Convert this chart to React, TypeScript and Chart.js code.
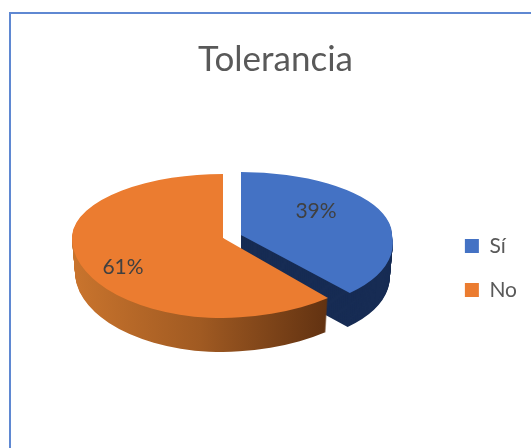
import React, { useEffect, useRef } from "react";
import { Chart, registerables } from "chart.js";

Chart.register(...registerables);

const titleText = "Tolerancia";
const categories = ["Sí", "No"];
const seriesValues = [39, 61];
const sliceColors = ["#4472c4", "#eb7c30"];

const DEPTH = 34;
type Piece = { clip: number[]; ry: number; m: number[] };
const BIG = 1000;
// Each slice's projection: a piecewise linear stand-in for the reference's perspective
const projections = [
  {
    cx: 241, cy: 235, rx: 151,
    pieces: [
      { clip: [-BIG, -BIG, 2 * BIG, BIG + 0.5], ry: 63, m: [1, 0, 0, 1] },
      { clip: [-BIG, 0, 2 * BIG, BIG], ry: 80, m: [1, 0.108, 0, 0.94] },
    ] as Piece[],
    label: [316, 211],
  },
  {
    cx: 223, cy: 238, rx: 151,
    pieces: [
      { clip: [-BIG, -BIG, BIG + 0.5, BIG + 0.5], ry: 64, m: [1, 0, 0, 1] },
      { clip: [-BIG, 0, BIG + 0.5, BIG], ry: 80, m: [1, 0, 0, 1] },
      { clip: [0, 0, BIG, BIG], ry: 80, m: [1.091, 0, -0.031, 1] },
    ] as Piece[],
    label: [123, 267],
  },
];

const pie3d = {
  id: "pie3d",
  beforeDraw(chart: any) {
    const { ctx, width, height } = chart;
    ctx.save();
    ctx.strokeStyle = "#5f88d2";
    ctx.lineWidth = 2;
    ctx.beginPath();
    ctx.moveTo(10, height);
    ctx.lineTo(10, 13);
    ctx.lineTo(width, 13);
    ctx.stroke();
    ctx.restore();
  },
  beforeDatasetsDraw(chart: any) {
    const { ctx } = chart;
    const arcs = chart.getDatasetMeta(0).data;

    const drawArc = (i: number, fill: any, dy: number, shrink: number) => {
      const arc = arcs[i];
      const p = projections[i];
      const R = arc.outerRadius;
      const original = arc.options;
      arc.options = Object.assign(Object.create(original), { backgroundColor: fill, borderWidth: 0 });
      for (const piece of p.pieces) {
        ctx.save();
        ctx.translate(p.cx, p.cy + dy);
        ctx.beginPath();
        ctx.rect(piece.clip[0], piece.clip[1], piece.clip[2], piece.clip[3]);
        ctx.clip();
        const sx = (p.rx * shrink) / R;
        const sy = piece.ry / R;
        ctx.transform(sx * piece.m[0], sy * piece.m[2], sx * piece.m[1], sy * piece.m[3], 0, 0);
        ctx.translate(-arc.x, -arc.y);
        arc.draw(ctx);
        ctx.restore();
      }
      arc.options = original;
    };

    const R = arcs[1].outerRadius;
    const grad = ctx.createLinearGradient(arcs[1].x - R, 0, arcs[1].x + 0.7 * R, 0);
    grad.addColorStop(0, "#c9742d");
    grad.addColorStop(0.5, "#a05a22");
    grad.addColorStop(1, "#5d2f10");

    for (let d = DEPTH; d > 0; d--) drawArc(0, "#172c54", d, 1 - (0.02 * d) / DEPTH);
    for (let d = DEPTH; d > 0; d--) drawArc(1, grad, d, 1 - (0.02 * d) / DEPTH);
    drawArc(0, sliceColors[0], 0, 1);
    drawArc(1, sliceColors[1], 0, 1);

    const total = seriesValues.reduce((a, b) => a + b, 0);
    ctx.save();
    ctx.font = '21px Lato, "Open Sans", sans-serif';
    ctx.fillStyle = "#404040";
    ctx.textAlign = "center";
    ctx.textBaseline = "middle";
    seriesValues.forEach((v, i) => {
      const [x, y] = projections[i].label;
      ctx.fillText(Math.round((v / total) * 100) + "%", x, y);
    });
    ctx.restore();
    return false;
  },
};

export default function App() {
  const ref = useRef<HTMLCanvasElement>(null);
  useEffect(() => {
    const chart = new Chart(ref.current as HTMLCanvasElement, {
      type: "pie",
      data: {
        labels: categories,
        datasets: [{ data: seriesValues, backgroundColor: sliceColors, borderWidth: 0 }],
      },
      plugins: [pie3d],
      options: {
        animation: false,
        responsive: false,
        events: [],
        layout: { padding: { top: 39, left: 24, right: 4, bottom: 0 } },
        plugins: {
          tooltip: { enabled: false },
          title: {
            display: true,
            text: titleText,
            color: "#595959",
            font: { family: 'Lato, "Open Sans", sans-serif', size: 35, weight: "normal" },
            padding: { top: 0, bottom: 7 },
          },
          legend: {
            position: "right",
            fullSize: false,
            labels: {
              boxWidth: 14,
              boxHeight: 14,
              padding: 23,
              color: "#595959",
              font: { family: 'Lato, "Open Sans", sans-serif', size: 21 },
            },
          },
        },
      } as any,
    });
    return () => chart.destroy();
  }, []);
  return (
    <div style={{ position: "fixed", left: 0, top: 0, width: 531, height: 448, background: "#fff" }}>
      <canvas ref={ref} width={531} height={448} style={{ display: "block" }} />
    </div>
  );
}
